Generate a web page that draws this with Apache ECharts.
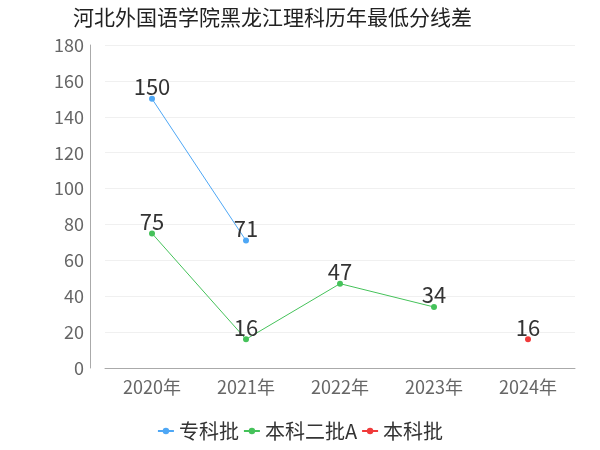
<!DOCTYPE html>
<html>
<head>
<meta charset="utf-8">
<script src="https://cdn.jsdelivr.net/npm/echarts@6/dist/echarts.min.js"></script>
<style>body{margin:0}#main{width:600px;height:450px}</style>
</head>
<body>
<div id="main"></div>
<script>
var years = ['2020年', '2021年', '2022年', '2023年', '2024年'];
var zhuanke = [150, 71, null, null, null];
var benkeErA = [75, 16, 47, 34, null];
var benke = [null, null, null, null, 16];

var font = 'Noto Sans CJK SC';
var lbl = { show: true, position: 'top', fontSize: 22, color: '#333', distance: -2, fontFamily: font };

var myChart = echarts.init(document.getElementById('main'));
myChart.setOption({
    textStyle: { fontFamily: font },
    title: {
        text: '河北外国语学院黑龙江理科历年最低分线差',
        left: 68, top: 2,
        textStyle: { fontSize: 21, fontWeight: 'normal', color: '#222', fontFamily: font }
    },
    legend: {
        bottom: 4,
        itemGap: 4,
        itemWidth: 16, itemHeight: 8,
        textStyle: { fontSize: 20, color: '#333' },
        data: ['专科批', '本科二批A', '本科批']
    },
    grid: { left: 105, right: 25, top: 45, bottom: 82 },
    xAxis: {
        type: 'category',
        data: years,
        axisLine: { lineStyle: { color: '#aaa' } },
        axisTick: { show: false },
        axisLabel: { fontSize: 18, color: '#666', margin: 10 }
    },
    yAxis: {
        type: 'value',
        min: 0, max: 180, interval: 20,
        offset: 15,
        axisLine: { show: true, lineStyle: { color: '#aaa' } },
        axisLabel: { fontSize: 18, color: '#666', margin: 6 },
        splitLine: { lineStyle: { color: '#f0f0f0' } }
    },
    series: [
        { name: '专科批', type: 'line', data: zhuanke, symbol: 'circle', symbolSize: 6,
          itemStyle: { color: '#4ea7f5' }, lineStyle: { width: 1 }, label: lbl },
        { name: '本科二批A', type: 'line', data: benkeErA, symbol: 'circle', symbolSize: 6,
          itemStyle: { color: '#45c25a' }, lineStyle: { width: 1 }, label: lbl },
        { name: '本科批', type: 'line', data: benke, symbol: 'circle', symbolSize: 6,
          itemStyle: { color: '#f03a3a' }, lineStyle: { width: 1 }, label: lbl }
    ]
});
</script>
</body>
</html>
